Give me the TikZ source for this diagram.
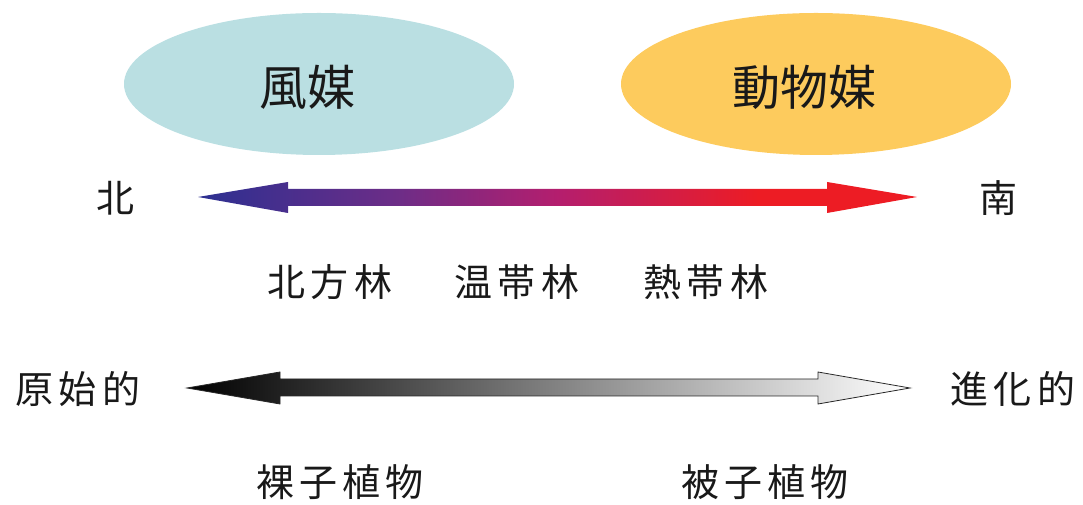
\documentclass[tikz,border=0pt]{standalone}
\usepackage{fontspec}
\newfontfamily\cjk{Noto Sans CJK JP}
\newfontfamily\cjksp{Noto Sans CJK JP}[LetterSpace=14]
\definecolor{windblue}{RGB}{186,223,226}
\definecolor{animorange}{RGB}{253,203,93}
\definecolor{outl}{RGB}{40,40,40}
\pgfdeclarehorizontalshading{northsouth}{100bp}{
  rgb(0bp)=(0.173,0.188,0.569);
  rgb(25bp)=(0.173,0.188,0.569);
  rgb(39bp)=(0.43,0.176,0.53);
  rgb(50bp)=(0.706,0.118,0.431);
  rgb(64bp)=(0.93,0.11,0.14);
  rgb(75bp)=(0.93,0.11,0.14);
  rgb(100bp)=(0.93,0.11,0.14)}
\tikzset{
  lbl/.style={font=\cjksp\fontsize{38}{44}\selectfont, text=black!90, inner sep=0pt},
  big/.style={font=\cjk\fontsize{48}{54}\selectfont, text=black!90, inner sep=0pt},
}
\begin{document}
\begin{tikzpicture}[x=1pt,y=1pt]
\useasboundingbox (0,0) rectangle (1083,505);
% ellipses
\fill[windblue] (319,421) ellipse [x radius=195, y radius=71];
\fill[animorange] (816,421) ellipse [x radius=195, y radius=71];
\node[big] (wind) at (307,418) {風媒};
\node[big] (anim) at (804,418) {動物媒};
% colored arrow
\shade[shading=northsouth]
  (198,308) -- (288,323) -- (288,316) -- (827,316) -- (827,323) -- (917,308)
  -- (827,292) -- (827,299) -- (288,299) -- (288,292) -- cycle;
\node[lbl] (north) at (115,307) {北};
\node[lbl] (south) at (998,307) {南};
\node[lbl] (boreal) at (330,223) {北方林};
\node[lbl] (temp) at (517,223) {温帯林};
\node[lbl] (trop) at (706,223) {熱帯林};
% gray arrow
\shade[left color=black, right color=white, draw=outl, line width=0.8pt]
  (187,117) -- (280,133) -- (280,126) -- (818,126) -- (818,133) -- (910,117)
  -- (818,101) -- (818,109) -- (280,109) -- (280,101) -- cycle;
\node[lbl] (prim) at (78,116) {原始的};
\node[lbl] (adv) at (1013,116) {進化的};
\node[lbl] (gymno) at (340,23) {裸子植物};
\node[lbl] (angio) at (765,23) {被子植物};
\end{tikzpicture}
\end{document}
